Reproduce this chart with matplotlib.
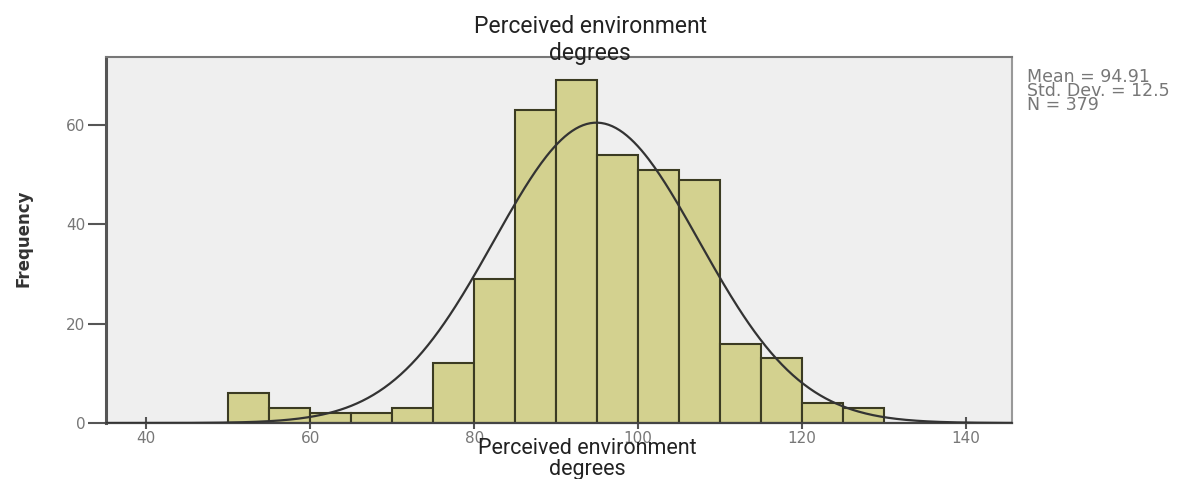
import numpy as np
import matplotlib
matplotlib.use("Agg")
import matplotlib.pyplot as plt

bin_edges = [50, 55, 60, 65, 70, 75, 80, 85, 90, 95, 100, 105, 110, 115, 120, 125, 130]
counts = [6, 3, 2, 2, 3, 12, 29, 63, 69, 54, 51, 49, 16, 13, 4, 3]
mean_val = 94.91
std_val = 12.5
n_val = 379
x_ticks = [40, 60, 80, 100, 120, 140]
y_ticks = [0, 20, 40, 60]
title = "Perceived environment\ndegrees"
stats_text = "Mean = 94.91\nStd. Dev. = 12.5\nN = 379"

fig = plt.figure(figsize=(11.88, 4.79), dpi=100)
ax = fig.add_axes([0.0892, 0.1169, 0.7627, 0.7641])
ax.set_facecolor("#efefef")

lefts = bin_edges[:-1]
widths = np.diff(bin_edges)
ax.bar(lefts, counts, width=widths, align="edge", color="#d3d18f",
       edgecolor="#3b3b22", linewidth=1.5, zorder=2)

xs = np.linspace(35, 146, 500)
bw = widths[0]
ys = n_val * bw / (std_val * np.sqrt(2 * np.pi)) * np.exp(-0.5 * ((xs - mean_val) / std_val) ** 2)
ax.plot(xs, ys, color="#333333", linewidth=1.6, zorder=3)

ax.set_xlim(35.1, 145.6)
ax.set_ylim(0, 73.7)
ax.set_xticks(x_ticks)
ax.set_yticks(y_ticks)
ax.tick_params(axis="both", colors="#555555", labelsize=11, width=1.5)
ax.tick_params(axis="y", length=13, pad=2)
ax.tick_params(axis="x", direction="inout", length=9, pad=1)
for lab in ax.get_xticklabels() + ax.get_yticklabels():
    lab.set_family("DejaVu Sans")
    lab.set_color("#777777")

ax.spines["left"].set_color("#555555")
ax.spines["left"].set_linewidth(2.2)
ax.spines["bottom"].set_color("#444444")
ax.spines["bottom"].set_linewidth(1.6)
ax.spines["top"].set_color("#777777")
ax.spines["top"].set_linewidth(1.5)
ax.spines["right"].set_color("#999999")
ax.spines["right"].set_linewidth(1.5)

fig.text(23 / 1188, 1 - 238 / 479, "Frequency", rotation=90, ha="center", va="center",
         fontsize=12, fontweight="bold", family=["Liberation Sans Narrow", "DejaVu Sans"],
         color="#333333")

fig.text(590 / 1188, 1 - 40 / 479, title, ha="center", va="center", fontsize=16.5,
         family="Roboto", color="#222222", linespacing=1.25)
fig.text(587 / 1188, 1 - 459 / 479, title, ha="center", va="center", fontsize=15.5,
         family="Roboto", color="#222222", linespacing=1.0)

fig.text(1027 / 1188, 1 - 91 / 479, stats_text, ha="left", va="center", fontsize=12.5,
         family="DejaVu Sans", color="#777777", linespacing=0.74)

fig.savefig("out.png", dpi=100, facecolor="white")
